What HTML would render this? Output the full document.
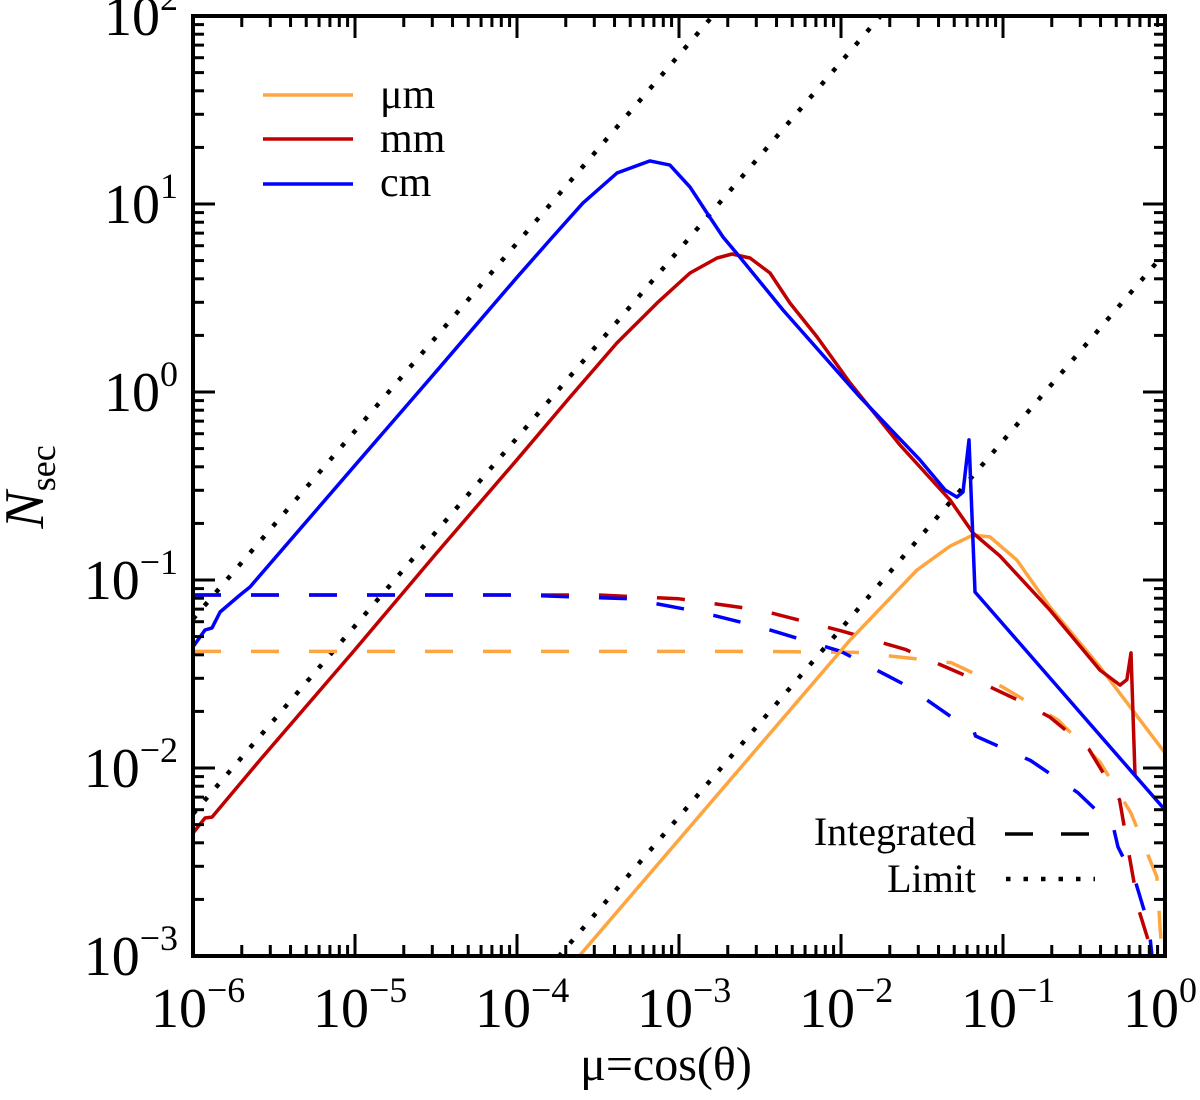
<!DOCTYPE html>
<html><head><meta charset="utf-8">
<style>
html,body{margin:0;padding:0;background:#fff;overflow:hidden;width:1200px;height:1100px;}
svg{position:absolute;left:0;top:0;display:block;font-family:"Liberation Serif",serif;overflow:hidden;}
</style></head>
<body>
<svg id="chart" width="1200" height="1100" viewBox="0 0 1200 1100" xmlns="http://www.w3.org/2000/svg">
<defs><clipPath id="plotclip"><rect x="193" y="16" width="972" height="940"/></clipPath></defs>
<g id="marks" clip-path="url(#plotclip)"></g>
<g id="axes"></g>
<g>
  <line x1="263" y1="95" x2="353" y2="95" stroke="#FFA540" stroke-width="3.5"/>
  <text x="380" y="108" font-size="42">μm</text>
  <line x1="263" y1="139" x2="353" y2="139" stroke="#C00000" stroke-width="3.5"/>
  <text x="380" y="152" font-size="42">mm</text>
  <line x1="263" y1="184" x2="353" y2="184" stroke="#0000FF" stroke-width="3.5"/>
  <text x="380" y="196" font-size="42">cm</text>
  <text x="976" y="845" font-size="40" text-anchor="end">Integrated</text>
  <line x1="1005" y1="834" x2="1095" y2="834" stroke="#000" stroke-width="3.5" stroke-dasharray="28,28"/>
  <text x="976" y="892" font-size="40" text-anchor="end">Limit</text>
  <line x1="1006" y1="879" x2="1095" y2="879" stroke="#000" stroke-width="4.5" stroke-dasharray="4.5,13"/>
</g>
<text x="666" y="1080" font-size="48" text-anchor="middle">μ=cos(θ)</text>
<text transform="translate(43,487) rotate(-90)" font-size="56" text-anchor="middle"><tspan font-style="italic">N</tspan><tspan font-size="36" dy="12">sec</tspan></text>
</svg>
<script>
// ---- data (log10 mu, log10 N) ----
const xTickExps = [-6,-5,-4,-3,-2,-1,0];
const yTickExps = [-3,-2,-1,0,1,2];
const limitCoeffs = [62000, 5700, 5.5];
const cmSolidLogMu = [-6,-5.926,-5.883,-5.833,-5.71,-5.648,-5.0,-4.5,-4.0,-3.796,-3.593,-3.383,-3.179,-3.056,-2.932,-2.827,-2.728,-2.636,-2.358,-1.883,-1.512,-1.358,-1.284,-1.247,-1.21,-1.173,0];
const cmSolidLogN = [-1.356,-1.266,-1.255,-1.17,-1.08,-1.037,-0.39,0.108,0.61,0.809,1.005,1.165,1.229,1.207,1.09,0.952,0.824,0.729,0.436,-0.027,-0.362,-0.521,-0.559,-0.532,-0.255,-1.064,-2.223];
const mmSolidLogMu = [-6,-5.926,-5.883,-5.586,-5,-4.5,-4,-3.673,-3.383,-3.136,-2.932,-2.765,-2.673,-2.562,-2.438,-2.315,-2.148,-1.944,-1.636,-1.327,-1.185,-1.019,-0.71,-0.401,-0.278,-0.235,-0.21,-0.185];
const mmSolidLogN = [-2.346,-2.266,-2.261,-1.957,-1.37,-0.86,-0.36,-0.027,0.261,0.473,0.633,0.713,0.734,0.713,0.633,0.473,0.293,0.048,-0.282,-0.574,-0.75,-0.872,-1.16,-1.479,-1.559,-1.53,-1.388,-2.037];
const umSolidLogMu = [-3.611,-1.944,-1.531,-1.327,-1.185,-1.08,-0.914,-0.71,-0.401,0];
const umSolidLogN = [-2.995,-1.319,-0.947,-0.82,-0.761,-0.771,-0.894,-1.144,-1.463,-1.92];
const cmIntLogMu = [-6,-4,-3.3,-2.87,-2.5,-2.0,-1.6,-1.3,-1.185,-1.17,-0.83,-0.54,-0.32,-0.29,-0.18,-0.10,-0.08];
const cmIntLogN = [-1.08,-1.08,-1.1,-1.17,-1.25,-1.38,-1.56,-1.74,-1.79,-1.83,-1.96,-2.13,-2.31,-2.42,-2.61,-2.84,-3.0];
const mmIntLogMu = [-6,-3.5,-3.0,-2.5,-2.0,-1.6,-1.2,-0.88,-0.71,-0.47,-0.28,-0.22,-0.16,-0.095];
const mmIntLogN = [-1.08,-1.08,-1.1,-1.16,-1.27,-1.37,-1.52,-1.65,-1.73,-1.9,-2.17,-2.47,-2.76,-2.94];
const umIntLogMu = [-6,-2.5,-1.9,-1.32,-1.0,-0.66,-0.40,-0.21,-0.05,-0.03,-0.02];
const umIntLogN = [-1.38,-1.38,-1.385,-1.44,-1.57,-1.745,-1.97,-2.24,-2.58,-2.85,-2.97];

const NS="http://www.w3.org/2000/svg";
const X0=193,X1=1165,Y0=956,Y1=16;
const xs=lx=>X0+(lx+6)/6*(X1-X0);
const ys=ly=>Y0-(ly+3)/5*(Y0-Y1);
const marks=document.getElementById('marks');
const axes=document.getElementById('axes');
function path(lxArr,lyArr,color,dash,name){
  const p=document.createElementNS(NS,'path');
  p.setAttribute('d',lxArr.map((v,i)=>(i?'L':'M')+xs(v).toFixed(1)+','+ys(lyArr[i]).toFixed(1)).join(''));
  p.setAttribute('fill','none');p.setAttribute('stroke',color);p.setAttribute('stroke-width','3.5');
  p.setAttribute('stroke-linejoin','round');
  if(dash)p.setAttribute('stroke-dasharray',dash);
  
  
  marks.appendChild(p);
}
limitCoeffs.forEach((c)=>{
  const l=document.createElementNS(NS,'line');
  const lc=Math.log10(c);
  l.setAttribute('x1',xs(-6));l.setAttribute('y1',ys(-6+lc));
  l.setAttribute('x2',xs(0));l.setAttribute('y2',ys(lc));
  l.setAttribute('stroke','#000');l.setAttribute('stroke-width','4.5');l.setAttribute('stroke-dasharray','4.5,13');
  
  
  marks.appendChild(l);
});
path(umIntLogMu,umIntLogN,'#FFA540','28,30','um-integrated-line');
path(mmIntLogMu,mmIntLogN,'#C00000','28,30','mm-integrated-line');
path(cmIntLogMu,cmIntLogN,'#0000FF','28,30','cm-integrated-line');
path(umSolidLogMu,umSolidLogN,'#FFA540',null,'um-line');
path(mmSolidLogMu,mmSolidLogN,'#C00000',null,'mm-line');
path(cmSolidLogMu,cmSolidLogN,'#0000FF',null,'cm-line');

const fr=document.createElementNS(NS,'rect');
fr.setAttribute('x',X0);fr.setAttribute('y',Y1);fr.setAttribute('width',X1-X0);fr.setAttribute('height',Y0-Y1);
fr.setAttribute('fill','none');fr.setAttribute('stroke','#000');fr.setAttribute('stroke-width','4');


axes.appendChild(fr);
function tick(x1,y1,x2,y2){
  const l=document.createElementNS(NS,'line');
  l.setAttribute('x1',x1);l.setAttribute('y1',y1);l.setAttribute('x2',x2);l.setAttribute('y2',y2);
  l.setAttribute('stroke','#000');l.setAttribute('stroke-width','3');
  
  
  axes.appendChild(l);
}
function label(x,y,e,anchor,name){
  const t=document.createElementNS(NS,'text');
  t.setAttribute('x',x);t.setAttribute('y',y);t.setAttribute('font-size','56');t.setAttribute('text-anchor',anchor);
  const s1=document.createElementNS(NS,'tspan');s1.textContent='10';
  const s2=document.createElementNS(NS,'tspan');s2.setAttribute('dy','-25');s2.setAttribute('font-size','36');
  s2.textContent=(e<0?'\u2212':'')+Math.abs(e);
  t.appendChild(s1);t.appendChild(s2);
  
  
  axes.appendChild(t);
}
xTickExps.forEach((e,i)=>{
  const x=xs(e);
  tick(x,Y0,x,Y0-22);tick(x,Y1,x,Y1+22);
  label(x-42,1027,e,'start','x-tick-label');
  if(i<xTickExps.length-1){
    for(let k=2;k<10;k++){const xm=xs(e+Math.log10(k));tick(xm,Y0,xm,Y0-11);tick(xm,Y1,xm,Y1+11);}
  }
});
yTickExps.forEach((e,i)=>{
  const y=ys(e);
  tick(X0,y,X0+22,y);tick(X1,y,X1-22,y);
  label(178,y+19,e,'end','y-tick-label');
  if(i<yTickExps.length-1){
    for(let k=2;k<10;k++){const ym=ys(e+Math.log10(k));tick(X0,ym,X0+11,ym);tick(X1,ym,X1-11,ym);}
  }
});
</script>
</body></html>
